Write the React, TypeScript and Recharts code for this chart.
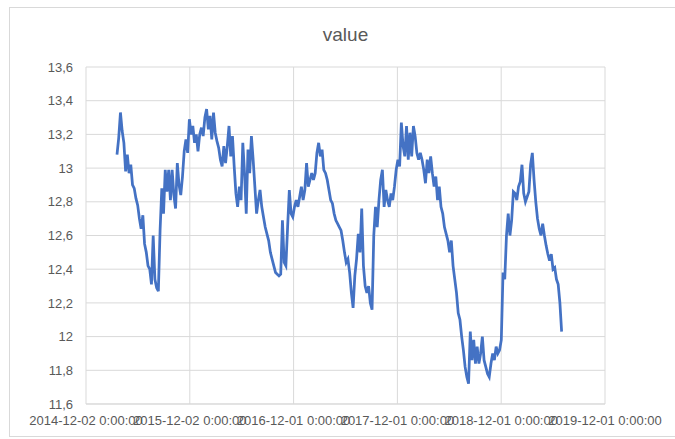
import React from 'react';
import { LineChart, Line, XAxis, YAxis, CartesianGrid } from 'recharts';

// daily-ish readings, sampled about every 6 days starting on day 109 after 2014-12-02
const startDay = 109;
const stepDays = 6.06;

const values = [
  13.08, 13.18, 13.33, 13.22, 13.15, 12.98, 13.08, 12.97, 13.02, 12.9,
  12.88, 12.82, 12.78, 12.7, 12.64, 12.72, 12.55, 12.5, 12.42, 12.4,
  12.31, 12.6, 12.34, 12.29, 12.27, 12.63, 12.88, 12.73, 12.99, 12.86,
  12.99, 12.81, 12.99, 12.84, 12.76, 13.03, 12.9, 12.84, 12.95, 13.1,
  13.17, 13.09, 13.29, 13.2, 13.25, 13.15, 13.2, 13.1, 13.2, 13.24,
  13.19, 13.3, 13.35, 13.23, 13.31, 13.17, 13.33, 13.21, 13.16, 13.12,
  13.05, 13.01, 13.13, 13.03, 13.13, 13.25, 13.07, 13.19, 13.01, 12.85,
  12.77, 12.89, 12.81, 13.15, 12.97, 12.73, 13.11, 12.97, 13.19, 13.05,
  12.89, 12.73, 12.81, 12.87, 12.77, 12.71, 12.65, 12.61, 12.57, 12.5,
  12.46, 12.42, 12.38, 12.37, 12.36, 12.37, 12.69, 12.44, 12.42, 12.65,
  12.87, 12.73, 12.71, 12.77, 12.81, 12.77, 12.83, 12.89, 12.81, 12.87,
  13.03, 12.89, 12.93, 12.97, 12.93, 12.97, 13.09, 13.15, 13.07, 13.11,
  12.99, 12.97, 12.93, 12.87, 12.81, 12.79, 12.73, 12.69, 12.67, 12.65,
  12.63, 12.57, 12.5, 12.44, 12.46, 12.38, 12.26, 12.17, 12.36, 12.46,
  12.61, 12.5, 12.76, 12.42, 12.3, 12.26, 12.3, 12.2, 12.16, 12.6,
  12.77, 12.65, 12.81, 12.93, 12.99, 12.77, 12.87, 12.81, 12.77, 12.85,
  12.81, 12.89, 12.99, 13.05, 13.01, 13.27, 13.13, 13.07, 13.25, 13.05,
  13.21, 13.07, 13.25, 13.19, 13.09, 13.05, 13.09, 13.05, 12.99, 12.91,
  13.05, 12.97, 13.07, 12.97, 12.89, 12.95, 12.81, 12.89, 12.77, 12.73,
  12.65, 12.61, 12.57, 12.5, 12.57, 12.42, 12.34, 12.26, 12.14, 12.1,
  12.0, 11.92, 11.82, 11.76, 11.72, 12.03, 11.86, 11.98, 11.84, 11.94,
  11.84, 11.9, 12.0, 11.86, 11.82, 11.78, 11.76, 11.84, 11.9, 11.86,
  11.94, 11.9, 11.92, 11.98, 12.38, 12.34, 12.6, 12.73, 12.6, 12.69,
  12.86, 12.85, 12.81, 12.89, 12.92, 13.02, 12.85, 12.8, 12.83, 12.86,
  13.02, 13.09, 12.93, 12.8, 12.7, 12.64, 12.6, 12.67, 12.6, 12.54,
  12.49, 12.45, 12.49, 12.4, 12.41, 12.34, 12.31, 12.2, 12.03,
];

const xTickDays = [0, 365, 730, 1095, 1460, 1825];
const xTickLabels = [
  '2014-12-02 0:00:00',
  '2015-12-02 0:00:00',
  '2016-12-01 0:00:00',
  '2017-12-01 0:00:00',
  '2018-12-01 0:00:00',
  '2019-12-01 0:00:00',
];
const yTicks = [11.6, 11.8, 12, 12.2, 12.4, 12.6, 12.8, 13, 13.2, 13.4, 13.6];

const data = values.map((v, i) => ({ day: startDay + i * stepDays, value: v }));

const FONT = '"Liberation Sans", Arial, sans-serif';
const TEXT = '#595959';
const GRID = '#d9d9d9';

const formatY = (v: number) => String(parseFloat(v.toFixed(1))).replace('.', ',');
const formatX = (d: number) => xTickLabels[xTickDays.indexOf(d)] ?? '';

export default function App() {
  return (
    <div
      style={{
        position: 'fixed',
        left: 0,
        top: 0,
        width: 675,
        height: 439,
        background: '#fff',
        overflow: 'hidden',
        fontFamily: FONT,
      }}
    >
      <div
        style={{
          position: 'absolute',
          left: 9,
          top: 7,
          width: 700,
          height: 428,
          border: `1px solid ${GRID}`,
        }}
      />
      <div
        style={{
          position: 'absolute',
          left: 0,
          top: 25,
          width: 691,
          textAlign: 'center',
          fontSize: 19,
          lineHeight: '19px',
          color: TEXT,
        }}
      >
        value
      </div>
      <div style={{ position: 'absolute', left: 0, top: 0 }}>
        <LineChart
          width={675}
          height={439}
          data={data}
          margin={{ top: 67, right: 70, bottom: 5, left: 0 }}
        >
          <CartesianGrid stroke={GRID} strokeWidth={1} />
          <XAxis
            dataKey="day"
            type="number"
            domain={[0, 1825]}
            ticks={xTickDays}
            interval={0}
            tickFormatter={formatX}
            height={30}
            tickSize={0}
            tickMargin={12}
            axisLine={{ stroke: GRID }}
            tickLine={false}
            tick={{ fill: TEXT, fontSize: 13, fontFamily: FONT }}
          />
          <YAxis
            type="number"
            domain={[11.6, 13.6]}
            ticks={yTicks}
            interval={0}
            tickFormatter={formatY}
            width={86}
            tickSize={0}
            tickMargin={13}
            axisLine={false}
            tickLine={false}
            tick={{ fill: TEXT, fontSize: 13, fontFamily: FONT }}
          />
          <Line
            type="linear"
            dataKey="value"
            stroke="#4472C4"
            strokeWidth={2.75}
            dot={false}
            isAnimationActive={false}
          />
        </LineChart>
      </div>
    </div>
  );
}
